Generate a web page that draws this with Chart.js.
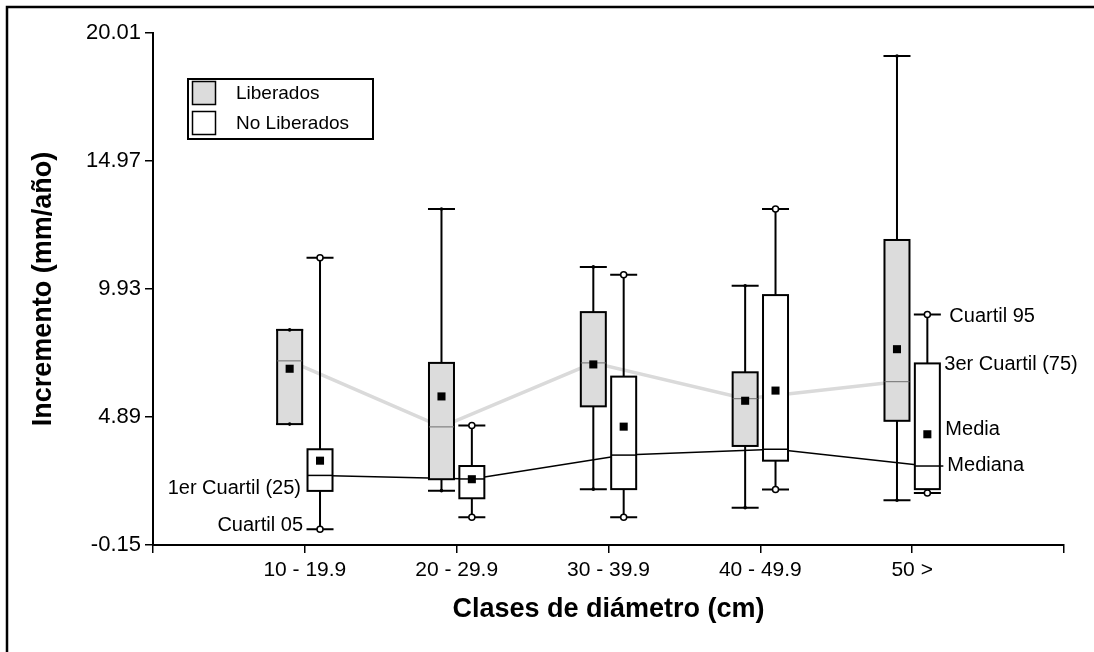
<!DOCTYPE html>
<html>
<head>
<meta charset="utf-8">
<script src="https://cdn.jsdelivr.net/npm/chart.js@4/dist/chart.umd.min.js"></script>
<style>
  html, body { margin: 0; padding: 0; background: #fff; }
  #wrap { width: 1094px; height: 652px; position: relative; }
</style>
</head>
<body>
<div id="wrap"><canvas id="c" width="1094" height="652"></canvas></div>
<script>
// Diameter classes and axis ticks
const categories = ['10 - 19.9', '20 - 29.9', '30 - 39.9', '40 - 49.9', '50 >'];
const yTicks = [-0.15, 4.89, 9.93, 14.97, 20.01];
const seriesNames = ['Liberados', 'No Liberados'];

// Liberados: percentiles 5/25/50/75/95 and mean (mm/año)
const libP05    = [4.61, 1.99, 2.05, 1.32, 1.61];
const libQ1     = [4.61, 2.44, 5.31, 3.75, 4.74];
const libMedian = [7.10, 4.50, 7.02, 5.61, 6.28];
const libQ3     = [8.32, 7.02, 9.02, 6.65, 11.86];
const libP95    = [8.32, 13.08, 10.80, 10.06, 19.10];
const libMean   = [6.79, 5.70, 6.96, 5.53, 7.56];

// No Liberados: percentiles 5/25/50/75/95 and mean (mm/año)
const noLibP05    = [0.47, 0.94, 0.94, 2.04, 1.90];
const noLibQ1     = [1.98, 1.69, 2.05, 3.17, 2.05];
const noLibMedian = [2.59, 2.45, 3.39, 3.62, 2.96];
const noLibQ3     = [3.62, 2.96, 6.48, 9.69, 7.00];
const noLibP95    = [11.16, 4.56, 10.49, 13.08, 8.93];
const noLibMean   = [3.17, 2.44, 4.51, 5.93, 4.21];

// Key labels
const noteLabels = {
  p95: 'Cuartil 95', q3: '3er Cuartil (75)', mean: 'Media',
  median: 'Mediana', q1: '1er Cuartil (25)', p05: 'Cuartil 05'
};

const FONT = "'Liberation Sans', Arial, sans-serif";
const SHIFT = 0.1;          // horizontal offset of each box from its class tick
const BOX_W = 25;           // box width in px
const CAP_W = 27;           // whisker cap width in px
const LIB_FILL = '#dcdcdc';

const groups = [
  { name: seriesNames[0], dx: -SHIFT, fill: LIB_FILL, medColor: '#6e6e6e', medWidth: 1,
    p05: libP05, q1: libQ1, med: libMedian, q3: libQ3, p95: libP95, mean: libMean },
  { name: seriesNames[1], dx: SHIFT, fill: '#ffffff', medColor: '#000000', medWidth: 1.5,
    p05: noLibP05, q1: noLibQ1, med: noLibMedian, q3: noLibQ3, p95: noLibP95, mean: noLibMean }
];

const pts = (g, arr) => arr.map((v, i) => ({ x: i + 1 + g.dx, y: v }));

// Boxes and whiskers, drawn after the median lines and before the markers
let boxesDrawn = false;
const boxPlugin = {
  id: 'boxes',
  beforeDatasetsDraw() { boxesDrawn = false; },
  beforeDatasetDraw(chart, args) {
    if (boxesDrawn || !chart.data.datasets[args.index].onTop) return;
    boxesDrawn = true;
    const { ctx, scales: { x, y } } = chart;
    ctx.save();
    groups.forEach(g => {
      categories.forEach((c, i) => {
        const cx = x.getPixelForValue(i + 1 + g.dx);
        const yq1 = y.getPixelForValue(g.q1[i]);
        const yq3 = y.getPixelForValue(g.q3[i]);
        const y05 = y.getPixelForValue(g.p05[i]);
        const y95 = y.getPixelForValue(g.p95[i]);
        const ym = y.getPixelForValue(g.med[i]);
        ctx.strokeStyle = '#000';
        ctx.lineWidth = 2;
        ctx.beginPath();
        ctx.moveTo(cx, yq3); ctx.lineTo(cx, y95);
        ctx.moveTo(cx, yq1); ctx.lineTo(cx, y05);
        ctx.moveTo(cx - CAP_W / 2, y95); ctx.lineTo(cx + CAP_W / 2, y95);
        ctx.moveTo(cx - CAP_W / 2, y05); ctx.lineTo(cx + CAP_W / 2, y05);
        ctx.stroke();
        ctx.fillStyle = g.fill;
        ctx.fillRect(cx - BOX_W / 2, yq3, BOX_W, yq1 - yq3);
        ctx.strokeRect(cx - BOX_W / 2, yq3, BOX_W, yq1 - yq3);
        ctx.strokeStyle = g.medColor;
        ctx.lineWidth = g.medWidth;
        ctx.beginPath();
        ctx.moveTo(cx - BOX_W / 2, ym); ctx.lineTo(cx + BOX_W / 2, ym);
        ctx.stroke();
      });
    });
    ctx.restore();
  }
};

// Frame, legend and the key labels beside the first and last boxes
const decorPlugin = {
  id: 'decor',
  afterDraw(chart) {
    const { ctx, scales: { x, y } } = chart;
    ctx.save();
    // frame
    ctx.strokeStyle = '#000';
    ctx.lineWidth = 2.5;
    ctx.beginPath();
    ctx.moveTo(7, 652); ctx.lineTo(7, 7); ctx.lineTo(1094, 7);
    ctx.stroke();

    // legend
    ctx.lineWidth = 2;
    ctx.strokeRect(188, 79, 185, 60);
    ctx.lineWidth = 1.5;
    groups.forEach((g, k) => {
      const top = 81.5 + k * 30;
      ctx.fillStyle = g.fill;
      ctx.fillRect(192.5, top, 23, 23);
      ctx.strokeRect(192.5, top, 23, 23);
      ctx.fillStyle = '#000';
      ctx.font = '19px ' + FONT;
      ctx.textAlign = 'left';
      ctx.textBaseline = 'middle';
      ctx.fillText(g.name, 236, top + 12);
    });

    // key labels
    const nl = groups[1];
    const last = categories.length - 1;
    const cxR = x.getPixelForValue(last + 1 + nl.dx);
    const cxL = x.getPixelForValue(1 + nl.dx);
    ctx.font = '20px ' + FONT;
    ctx.textBaseline = 'middle';
    ctx.fillStyle = '#000';
    // median pointer
    const ymR = y.getPixelForValue(nl.med[last]);
    ctx.lineWidth = 1.5;
    ctx.beginPath();
    ctx.moveTo(cxR + BOX_W / 2, ymR); ctx.lineTo(cxR + 16, ymR);
    ctx.stroke();
    ctx.textAlign = 'left';
    ctx.fillText(noteLabels.p95, cxR + 22, y.getPixelForValue(nl.p95[last]) + 2);
    ctx.fillText(noteLabels.q3, cxR + 17, y.getPixelForValue(nl.q3[last]) + 1);
    ctx.fillText(noteLabels.mean, cxR + 18, y.getPixelForValue(nl.mean[last]) - 5);
    ctx.fillText(noteLabels.median, cxR + 20, ymR - 1);
    ctx.textAlign = 'right';
    ctx.fillText(noteLabels.q1, cxL - 19, y.getPixelForValue(nl.q1[0]) - 2);
    ctx.fillText(noteLabels.p05, cxL - 17, y.getPixelForValue(nl.p05[0]) - 4);
    ctx.restore();
  }
};

const datasets = [
  { label: seriesNames[0] + ' mediana', data: pts(groups[0], libMedian), showLine: true,
    borderColor: '#dadada', borderWidth: 3.5, pointRadius: 0, order: 10 },
  { label: seriesNames[1] + ' mediana', data: pts(groups[1], noLibMedian), showLine: true,
    borderColor: '#000', borderWidth: 1.5, pointRadius: 0, order: 9 },
  { label: seriesNames[0] + ' P5/P95', data: pts(groups[0], libP05).concat(pts(groups[0], libP95)),
    showLine: false, pointRadius: 1.8, pointBackgroundColor: '#000', pointBorderWidth: 0,
    order: 3, onTop: true },
  { label: seriesNames[1] + ' P5/P95', data: pts(groups[1], noLibP05).concat(pts(groups[1], noLibP95)),
    showLine: false, pointRadius: 3, pointBackgroundColor: '#fff', pointBorderColor: '#000',
    pointBorderWidth: 1.5, order: 2, onTop: true },
  { label: seriesNames[0] + ' media', data: pts(groups[0], libMean), showLine: false,
    pointStyle: 'rect', pointRadius: 5.7, pointBackgroundColor: '#000', pointBorderWidth: 0,
    order: 1, onTop: true },
  { label: seriesNames[1] + ' media', data: pts(groups[1], noLibMean), showLine: false,
    pointStyle: 'rect', pointRadius: 5.7, pointBackgroundColor: '#000', pointBorderWidth: 0,
    order: 0, onTop: true }
];

new Chart(document.getElementById('c'), {
  type: 'scatter',
  data: { datasets },
  plugins: [boxPlugin, decorPlugin],
  options: {
    responsive: false,
    animation: false,
    events: [],
    layout: { padding: { left: 0, top: 33, right: 30, bottom: 0 } },
    plugins: { legend: { display: false }, tooltip: { enabled: false } },
    scales: {
      x: {
        type: 'linear', min: 0, max: categories.length + 1,
        afterBuildTicks: s => { s.ticks = Array.from({ length: categories.length + 2 }, (_, v) => ({ value: v })); },
        afterFit: s => { s.height = 107; },
        ticks: {
          callback: v => categories[v - 1] || '',
          font: { family: FONT, size: 21 }, color: '#000', padding: 5,
          maxRotation: 0, autoSkip: false
        },
        grid: { drawOnChartArea: false, drawTicks: true, tickLength: 8, color: '#000', lineWidth: 1.5 },
        border: { display: true, color: '#000', width: 2 },
        title: { display: true, text: 'Clases de diámetro (cm)', color: '#000',
                 font: { family: FONT, size: 27, weight: 'bold' }, padding: { bottom: 26 } }
      },
      y: {
        type: 'linear', min: yTicks[0], max: yTicks[yTicks.length - 1],
        afterBuildTicks: s => { s.ticks = yTicks.map(v => ({ value: v })); },
        afterFit: s => { s.width = 153; },
        ticks: {
          callback: v => v.toFixed(2),
          font: { family: FONT, size: 22 }, color: '#000', padding: 4
        },
        grid: { drawOnChartArea: false, drawTicks: true, tickLength: 8, color: '#000', lineWidth: 1.5 },
        border: { display: true, color: '#000', width: 2 },
        title: { display: true, text: 'Incremento (mm/año)', color: '#000',
                 font: { family: FONT, size: 27, weight: 'bold' }, padding: { top: 27 } }
      }
    }
  }
});
</script>
</body>
</html>
